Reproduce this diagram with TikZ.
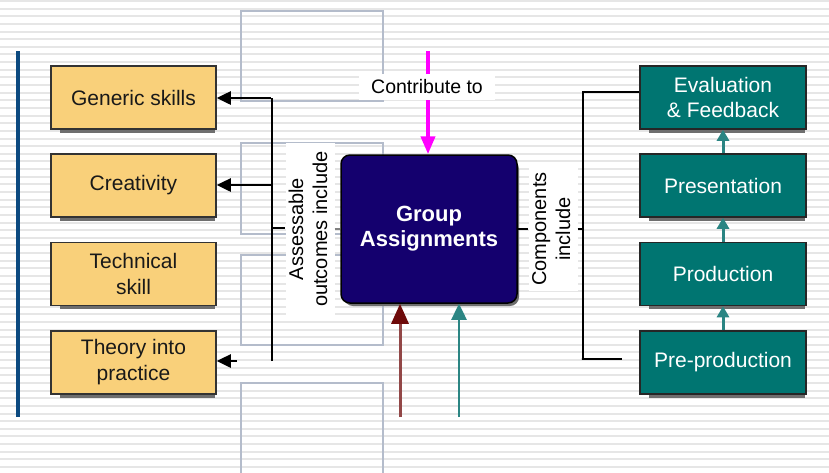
\documentclass[tikz,border=0pt]{standalone}
\usepackage{fontspec}
\setmainfont{Liberation Sans}
\usetikzlibrary{arrows.meta}
\definecolor{boxyellow}{HTML}{F9D07A}
\definecolor{boxteal}{HTML}{007571}
\definecolor{navy}{HTML}{14006E}
\definecolor{frame}{HTML}{B4BCCB}
\definecolor{railblue}{HTML}{0C4A80}
\definecolor{stripe}{HTML}{E6E6E6}
\definecolor{tealarrow}{HTML}{2B8583}
\definecolor{darkred}{HTML}{6E0A0A}
\definecolor{shadowgray}{HTML}{6E6E6E}
\definecolor{brightmagenta}{HTML}{FF00FF}
\tikzset{
  outcome/.style={draw=black!80, line width=1.5pt, fill=boxyellow, text=black!90,
    minimum width=165pt, minimum height=63pt, align=center,
    font=\fontsize{21}{26}\selectfont},
  stage/.style={draw=black!85, line width=1.5pt, fill=boxteal, text=white,
    minimum width=166pt, minimum height=63pt, align=center,
    font=\fontsize{21}{25}\selectfont},
  hub/.style={draw=black, line width=1.5pt, fill=navy, text=white, rounded corners=9pt,
    minimum width=176pt, minimum height=148pt, align=center,
    font=\bfseries\fontsize{22}{25}\selectfont},
  sidelabel/.style={fill=white, inner sep=0pt, font=\fontsize{20}{25}\selectfont},
  link/.style={line width=2.5pt, black},
  linkarrow/.style={link, -{Triangle[length=14pt,width=13pt]}},
  chain/.style={tealarrow, line width=3pt, -{Triangle[length=11pt,width=12pt]}},
  faint/.style={frame, line width=1.5pt},
}
\newcommand{\boxshadow}[1]{%
  \fill[shadowgray] ([xshift=10pt]#1.south west) rectangle ([xshift=-2pt,yshift=-3pt]#1.south east);}
\begin{document}
\begin{tikzpicture}[x=1pt,y=-1pt]
\useasboundingbox (0,0) rectangle (829,472);
% striped page background
\fill[white] (0,0) rectangle (829,472);
\foreach \k in {0,...,61} {
  \draw[stripe, line width=2pt] (0,1+7.64*\k) -- (829,1+7.64*\k);
}
% pale frames behind the middle column
\draw[faint] (241,11) rectangle (383,101);
\draw[faint] (241,143) rectangle (383,234);
\draw[faint] (241,255) rectangle (383,345);
\draw[faint] (241,480) -- (241,383) -- (383,383) -- (383,480);
% left rail
\draw[railblue, line width=4.5pt] (18,51) -- (18,417);

% assessable outcomes
\node[outcome] (gen) at (133.5,97.5) {Generic skills};
\node[outcome] (cre) at (133.5,185.5) {Creativity};
\node[outcome] (tec) at (133.5,274) {Technical\\skill};
\node[outcome] (thy) at (133.5,362.5) {Theory into\\practice};
\foreach \b in {gen,cre,tec,thy} {\boxshadow{\b}}
\node[outcome] at (gen) {Generic skills};
\node[outcome] at (cre) {Creativity};
\node[outcome] at (tec) {Technical\\skill};
\node[outcome] at (thy) {Theory into\\practice};

% components
\node[stage] (eva) at (723,97.5) {Evaluation\\\& Feedback};
\node[stage] (pres) at (723,185.5) {Presentation};
\node[stage] (prod) at (723,274) {Production};
\node[stage] (pre) at (723,362.5) {Pre-production};
\foreach \b in {eva,pres,prod,pre} {\boxshadow{\b}}
\node[stage] at (eva) {Evaluation\\\& Feedback};
\node[stage] at (pres) {Presentation};
\node[stage] at (prod) {Production};
\node[stage] at (pre) {Pre-production};

% central hub
\fill[shadowgray, rounded corners=9pt] (344,160) rectangle (519,306);
\node[hub] (grp) at (429,229) {Group\\Assignments};

% side labels
\node[sidelabel, minimum width=48pt, minimum height=172pt] (ass) at (310,229)
  {\rotatebox{90}{\begin{tabular}{@{}c@{}}Assessable\\[-1pt]outcomes include\end{tabular}}};
\node[sidelabel, minimum width=46pt, minimum height=124pt] (cmp) at (553,229)
  {\rotatebox{90}{\begin{tabular}{@{}c@{}}Components\\[-1pt]include\end{tabular}}};

% left-hand tree
\coordinate (ltop) at (272,98);
\coordinate (lbot) at (272,361);
\coordinate (lmid) at (272,228);
\coordinate (lcre) at (272,185);
\coordinate (lthy) at (237,361);
\draw[link] (lbot) -- (ltop);
\draw[linkarrow] ([xshift=-1.25pt]ltop) -- (ltop -| gen.east);
\draw[linkarrow] (lcre) -- (lcre -| cre.east);
\draw[linkarrow] (lthy) -- (lthy -| thy.east);
\draw[link] (lmid) -- (lmid -| ass.west);
\draw[gray, line width=2.5pt] (ass.east) -- (grp.west);

% right-hand tree
\coordinate (rtop) at (583,93);
\coordinate (rbot) at (583,359);
\coordinate (rmid) at (583,229);
\coordinate (rend) at (622,359);
\draw[link] (grp.east) -- (cmp.west);
\draw[link] (cmp.east) -- (rmid);
\draw[link] ([yshift=1.25pt]rtop -| eva.west) -- ([yshift=1.25pt]rtop) -- (rtop) -- (rbot) -- ([xshift=-1.25pt]rbot) -- (rend);

% component sequence
\draw[chain] (pre.north) -- (prod.south);
\draw[chain] (prod.north) -- (pres.south);
\draw[chain] (pres.north) -- (eva.south);

% inputs to the hub
\coordinate (mtop) at (428,51);
\draw[brightmagenta, line width=4pt, -{Triangle[length=18pt,width=14pt]}] (mtop) -- (mtop |- grp.north);
\node[fill=white, minimum width=136pt, minimum height=26pt, inner sep=0pt,
  font=\fontsize{19.5}{22}\selectfont] (ctb) at (427,87) {Contribute to};
\coordinate (rtail) at (400,417);
\coordinate (ttail) at (459,417);
\draw[darkred!75!white, line width=3pt, -{Triangle[length=20pt,width=17pt,fill=darkred,color=darkred]}]
  (rtail) -- (rtail |- grp.south);
\draw[tealarrow, line width=2.5pt, -{Triangle[length=16pt,width=15pt]}]
  (ttail) -- (ttail |- grp.south);
\end{tikzpicture}
\end{document}
